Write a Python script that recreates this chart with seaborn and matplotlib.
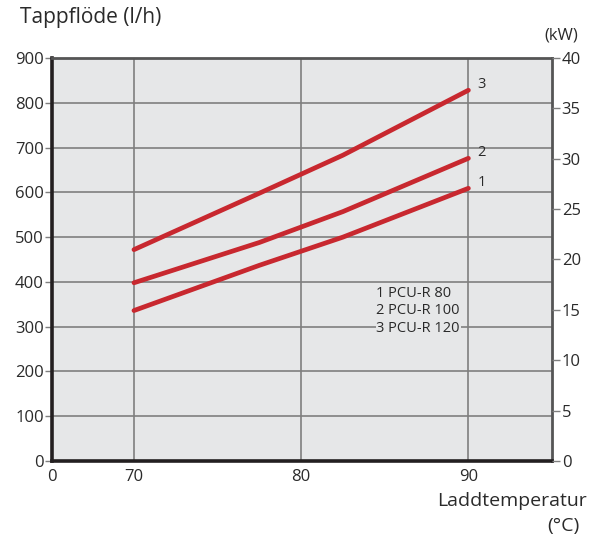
import pandas as pd
import seaborn as sns
import matplotlib.pyplot as plt

# data
temps = [70, 77.5, 82.5, 90]
flow_80 = [336, 437, 500, 609]
flow_100 = [398, 488, 557, 676]
flow_120 = [472, 598, 683, 828]
models = ["1 PCU-R 80", "2 PCU-R 100", "3 PCU-R 120"]
curve_ids = ["1", "2", "3"]

y_ticks = list(range(0, 1000, 100))
kw_ticks = list(range(0, 45, 5))
x_ticks = [70, 80, 90]
x_start = 65.1
x_end = 95.0

df = pd.DataFrame({
    "temp": temps * 3,
    "flow": flow_80 + flow_100 + flow_120,
    "model": [m for m in models for _ in temps],
})

sns.set_style("white")
plt.rcParams["font.family"] = ["Open Sans", "DejaVu Sans"]

bg = "#e6e7e8"
red = "#c8282f"
grid_c = "#7f7f7f"
txt = "#2a2a2a"

fig = plt.figure(figsize=(6, 5.4), dpi=100)
ax = fig.add_axes([0.0867, 0.1463, 0.8333, 0.7463])
ax.set_facecolor(bg)

sns.lineplot(data=df, x="temp", y="flow", hue="model",
             palette=[red, red, red], linewidth=3.4, legend=False,
             solid_capstyle="round", ax=ax)

ax.set_xlim(x_start, x_end)
ax.set_ylim(0, 900)
ax.set_xticks([x_start] + x_ticks)
ax.set_xticklabels(["0"] + [str(t) for t in x_ticks])
ax.set_yticks(y_ticks)
ax.set_xlabel("")
ax.set_ylabel("")

# grid only at real values
for v in x_ticks:
    ax.axvline(v, color=grid_c, lw=1.2, zorder=0.5)
for v in y_ticks[1:]:
    ax.axhline(v, color=grid_c, lw=1.2, zorder=0.5)

ax.tick_params(axis="both", direction="out", length=5, width=1,
               colors=grid_c, labelcolor=txt, labelsize=12, pad=1)

for s in ["left", "bottom"]:
    ax.spines[s].set_linewidth(2.6)
    ax.spines[s].set_color("#231f20")
for s in ["top", "right"]:
    ax.spines[s].set_linewidth(2)
    ax.spines[s].set_color("#555555")

# right-hand kW axis
ax2 = ax.twinx()
ax2.set_ylim(0, 40)
ax2.set_yticks(kw_ticks)
ax2.tick_params(axis="y", direction="out", length=6, width=1,
                colors=grid_c, labelcolor=txt, labelsize=12, pad=1)
for s in ax2.spines.values():
    s.set_visible(False)

# curve numbers at line ends
ends = [flow_80[-1], flow_100[-1], flow_120[-1]]
for cid, yv in zip(curve_ids, ends):
    ax.text(90.55, yv + 12, cid, fontsize=10.5, color=txt, ha="left", va="center")

ax.text(84.5, 335, "\n".join(models), fontsize=10.5, color=txt,
        ha="left", va="center", linespacing=1.22,
        bbox=dict(facecolor=bg, edgecolor="none", pad=0.5))

fig.text(0.033, 0.967, "Tappflöde (l/h)", fontsize=15, color=txt,
         ha="left", va="center")
fig.text(0.963, 0.935, "(kW)", fontsize=12, color=txt, ha="right", va="center")
fig.text(0.978, 0.072, "Laddtemperatur", fontsize=14, color=txt,
         ha="right", va="center")
fig.text(0.965, 0.025, "(°C)", fontsize=14, color=txt, ha="right", va="center")

plt.savefig("out.png", dpi=100)
